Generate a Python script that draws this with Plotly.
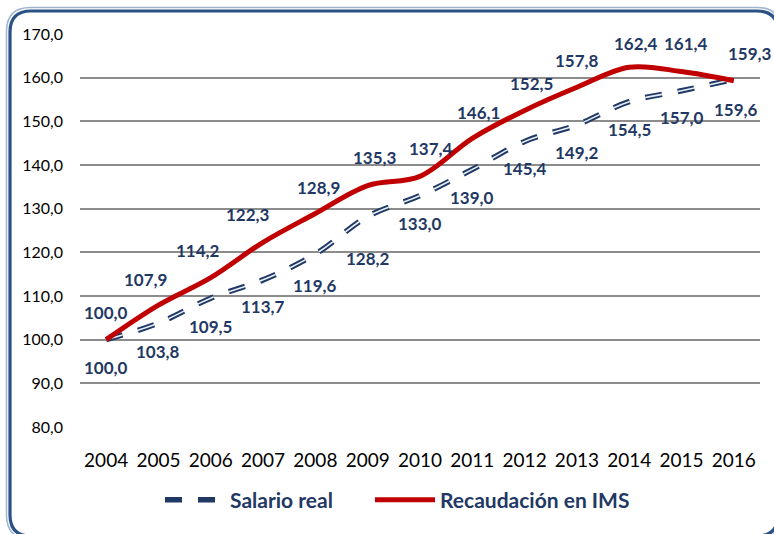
import plotly.graph_objects as go

# ---- data ----
years = ["2004", "2005", "2006", "2007", "2008", "2009", "2010",
         "2011", "2012", "2013", "2014", "2015", "2016"]
salario_real = [100.0, 103.8, 109.5, 113.7, 119.6, 128.2, 133.0,
                139.0, 145.4, 149.2, 154.5, 157.0, 159.6]
recaudacion_ims = [100.0, 107.9, 114.2, 122.3, 128.9, 135.3, 137.4,
                   146.1, 152.5, 157.8, 162.4, 161.4, 159.3]
y_ticks = [80, 90, 100, 110, 120, 130, 140, 150, 160, 170]

# ---- label nudges (pixels, style only) ----
rec_dx = [0, -13, -13, -15, 3, 7, 11, 6, 7, 0, 7, 4, 16]
rec_dy = [27, 26, 27, 28, 26, 28, 28, 26, 27, 27, 24, 28, 27]
sal_dx = [0, 0, 0, 0, 0, 0, 0, 0, 0, 0, 0, 0, 2]
sal_dy = [-28, -28, -28, -27, -31, -42, -28, -28, -27, -28, -28, -27, -30]

NAVY = "#1F3864"
RED = "#C00000"
FONT = "Lato"

W, H = 774, 534
ML, MR, MT, MB = 80, 14, 34, 107
PW, PH = W - ML - MR, H - MT - MB


def fmt(v):
    return "<b>" + f"{v:.1f}".replace(".", ",") + "</b>"


fig = go.Figure()

fig.add_trace(go.Scatter(
    x=years, y=salario_real, name="<b>Salario real</b>", mode="lines",
    line=dict(color=NAVY, width=5.5, dash="17px,16px", shape="spline", smoothing=1),
    hoverinfo="skip", legend="legend"))
fig.add_trace(go.Scatter(
    x=years, y=salario_real, mode="lines", showlegend=False,
    line=dict(color="#E8EEF6", width=1.6, dash="17px,16px", shape="spline", smoothing=1),
    hoverinfo="skip"))
fig.add_trace(go.Scatter(
    x=years, y=recaudacion_ims, name="<b>Recaudación en IMS</b>", mode="lines",
    line=dict(color=RED, width=5, shape="spline", smoothing=1),
    hoverinfo="skip", legend="legend2"))

annotations = []
for i, yr in enumerate(years):
    annotations.append(dict(
        x=i, y=recaudacion_ims[i], xref="x", yref="y", text=fmt(recaudacion_ims[i]),
        showarrow=False, xshift=rec_dx[i], yshift=rec_dy[i],
        font=dict(family=FONT, size=17, color=NAVY)))
    annotations.append(dict(
        x=i, y=salario_real[i], xref="x", yref="y", text=fmt(salario_real[i]),
        showarrow=False, xshift=sal_dx[i], yshift=sal_dy[i],
        font=dict(family=FONT, size=17, color=NAVY)))


def px2paper(px, py):
    return (px - ML) / PW, (H - MB - py) / PH


def rrect_path(x0, y0, x1, y1, r):
    def P(px, py):
        a, b = px2paper(px, py)
        return f"{a:.5f},{b:.5f}"
    path = (f"M {P(x0 + r, y0)} L {P(x1 - r, y0)} Q {P(x1, y0)} {P(x1, y0 + r)} "
            f"L {P(x1, y1 - r)} Q {P(x1, y1)} {P(x1 - r, y1)} "
            f"L {P(x0 + r, y1)} Q {P(x0, y1)} {P(x0, y1 - r)} "
            f"L {P(x0, y0 + r)} Q {P(x0, y0)} {P(x0 + r, y0)} Z")
    return path


shapes = [
    dict(type="path", xref="paper", yref="paper", path=rrect_path(6.5, 7.5, 781, 539, 24),
         line=dict(color="#9FB4D0", width=1.5), layer="above"),
    dict(type="path", xref="paper", yref="paper", path=rrect_path(10, 11, 778, 536, 21),
         line=dict(color="#2B5287", width=3.2), layer="above"),
]

legend_common = dict(orientation="h", xanchor="left",
                     y=(H - MB - 500) / PH, yanchor="middle",
                     font=dict(family=FONT, size=21, color=NAVY),
                     itemwidth=60, bgcolor="rgba(0,0,0,0)")

fig.update_layout(
    width=W, height=H,
    margin=dict(l=ML, r=MR, t=MT, b=MB),
    paper_bgcolor="white", plot_bgcolor="white",
    separators=",.",
    showlegend=True,
    legend=dict(x=(160 - ML) / PW, **legend_common),
    legend2=dict(x=(370 - ML) / PW, **legend_common),
    annotations=annotations,
    shapes=shapes,
    xaxis=dict(type="category", range=[-0.5, len(years) - 0.5], autorange=False,
               showgrid=False, showline=False, zeroline=False,
               ticks="", ticklabelstandoff=20,
               tickfont=dict(family=FONT, size=19, color="#000000")),
    yaxis=dict(range=[80, 170], autorange=False, tickvals=y_ticks, tickformat=".1f",
               showgrid=True, gridcolor="#8C8C8C", gridwidth=1.5,
               zeroline=False, showline=False, ticks="", ticklabelstandoff=16,
               tickfont=dict(family=FONT, size=16, color="#000000")),
)

fig.write_html("out.html", config={"displayModeBar": False},
               post_script="document.body.style.margin='0';")
